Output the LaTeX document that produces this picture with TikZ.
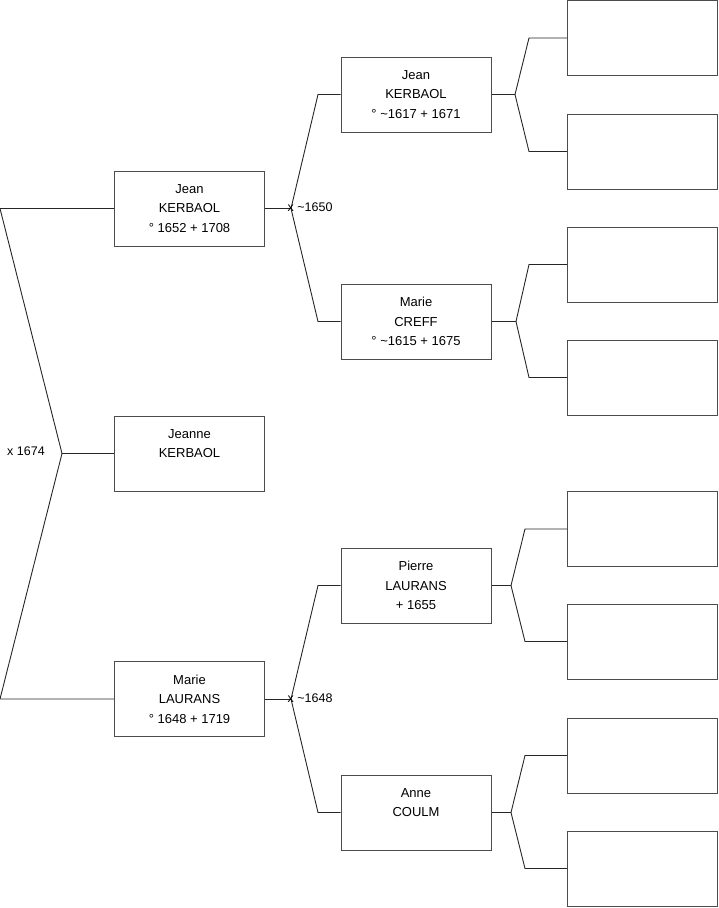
\documentclass[tikz,border=0pt]{standalone}
\usepackage{fontspec}
\setmainfont{Liberation Sans}
\newcommand{\tl}{\textasciitilde}
\begin{document}
\begin{tikzpicture}[x=1pt, y=-1pt,
	person/.style={draw=black!70, line width=1pt, minimum width=150pt, minimum height=75pt, align=center, inner sep=0pt, font=\fontsize{13}{19.5}\selectfont},
	link/.style={draw=black!85, line width=0.9pt},
	wed/.style={inner sep=0pt, font=\fontsize{12.5}{15}\selectfont}]
\useasboundingbox (0,0) rectangle (719,908);
% generation 1
\node[person] (p1) at (189.5,208.5) {Jean\\KERBAOL\\° 1652 + 1708};
\node[person] (p2) at (189.5,453.5) {Jeanne\\KERBAOL\\\mbox{}};
\node[person] (p3) at (189.5,699) {Marie\\LAURANS\\° 1648 + 1719};
% generation 2
\node[person] (g1) at (416,94.5) {Jean\\KERBAOL\\° \tl1617 + 1671};
\node[person] (g2) at (416,321.5) {Marie\\CREFF\\° \tl1615 + 1675};
\node[person] (g3) at (416,585.5) {Pierre\\LAURANS\\+ 1655};
\node[person] (g4) at (416,812.5) {Anne\\COULM\\\mbox{}};
% generation 3 (empty)
\foreach \n / \y in {1/38,2/151.5,3/264.5,4/377.5,5/529,6/641.5,7/755.5,8/868.5} {
	\node[person] (e\n) at (642.5,\y) {};
}
% first fork
\coordinate (m0) at (62,453.5);
\coordinate (t0) at (0,208.5);
\coordinate (b0) at (0,699);
\draw[link] (p1.west) -- (t0) -- (m0) -- (b0) -- (p3.west);
\draw[link] (m0) -- (p2.west);
\node[wed] (w0) at (26,451) {x 1674};
% second forks
\foreach \p / \a / \b / \y / \yr in {p1/g1/g2/208.5/1650, p3/g3/g4/699/1648} {
	\coordinate (m-\p) at (291,\y);
	\draw[link] (\p.east) -- (m-\p);
	\draw[link] (\a.west) -- (318,0 |- \a.west) -- (m-\p) -- (318,0 |- \b.west) -- (\b.west);
	\node[wed, anchor=west] (w-\p) at (287.5,\y-1) {x \tl\yr};
}
% third forks
\foreach \g / \a / \b / \fx / \bx in {g1/e1/e2/515/529, g2/e3/e4/516/529, g3/e5/e6/511/525, g4/e7/e8/511/525} {
	\coordinate (f-\g) at (\fx,0 |- \g.east);
	\draw[link] (\g.east) -- (f-\g);
	\draw[link] (\a.west) -- (\bx,0 |- \a.west) -- (f-\g) -- (\bx,0 |- \b.west) -- (\b.west);
}
\end{tikzpicture}
\end{document}
